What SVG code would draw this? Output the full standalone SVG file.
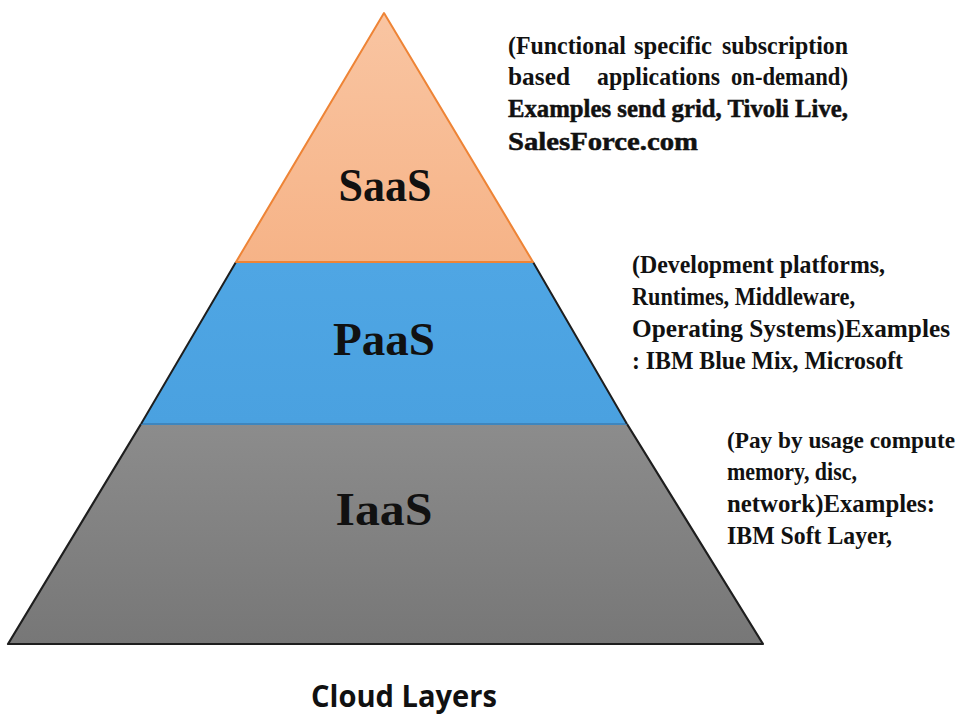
<svg xmlns="http://www.w3.org/2000/svg" width="962" height="719" viewBox="0 0 962 719">
<defs>
<linearGradient id="gSaas" x1="0" y1="0" x2="0" y2="1">
<stop offset="0" stop-color="#F9C5A2"/><stop offset="1" stop-color="#F6B387"/>
</linearGradient>
<linearGradient id="gPaas" x1="0" y1="0" x2="0" y2="1">
<stop offset="0" stop-color="#4FA6E4"/><stop offset="1" stop-color="#4AA1E0"/>
</linearGradient>
<linearGradient id="gIaas" x1="0" y1="0" x2="0" y2="1">
<stop offset="0" stop-color="#8C8C8C"/><stop offset="1" stop-color="#777777"/>
</linearGradient>
</defs>
<style>
.lbl{font-family:"Liberation Serif","Times New Roman",serif;font-weight:bold;font-size:46px;fill:#111;text-anchor:middle}
.descb{font-family:"Liberation Serif","Times New Roman",serif;font-size:25px;font-weight:bold;fill:#111}
.small{font-size:23px}
.heavy{stroke:#111;stroke-width:0.5}
.cap{font-family:"Open Sans","Liberation Sans",sans-serif;font-weight:bold;font-size:30px;fill:#111}
</style>
<rect width="962" height="719" fill="#FFFFFF"/>
<g id="iaas">
<polygon points="141,424 627,424 763,644 8,644" fill="url(#gIaas)"/>
<path d="M141,424 L8,644 L763,644 L627,424" fill="none" stroke="#1E1E1E" stroke-width="2.2" stroke-linejoin="round"/>
<text class="lbl" x="384" y="525" textLength="97" lengthAdjust="spacingAndGlyphs">IaaS</text>
</g>
<g id="paas">
<polygon points="236,262 533,262 627,424 141,424" fill="url(#gPaas)"/>
<line x1="141" y1="424" x2="627" y2="424" stroke="#3F86BE" stroke-width="2"/>
<path d="M236,262 L141,424 M533,262 L627,424" fill="none" stroke="#1E1E1E" stroke-width="2"/>
<text class="lbl" x="384" y="355" textLength="102" lengthAdjust="spacingAndGlyphs">PaaS</text>
</g>
<g id="saas">
<polygon points="384,13 533,262 236,262" fill="url(#gSaas)"/>
<path d="M236,262 L384,13 L533,262 Z" fill="none" stroke="#EE8436" stroke-width="2" stroke-linejoin="round"/>
<text class="lbl" x="385" y="201" textLength="93" lengthAdjust="spacingAndGlyphs">SaaS</text>
</g>
<g id="saas-desc">
<text class="descb" x="508" y="54" textLength="118" lengthAdjust="spacingAndGlyphs">(Functional</text>
<text class="descb" x="634" y="54" textLength="78" lengthAdjust="spacingAndGlyphs">specific</text>
<text class="descb" x="722" y="54" textLength="126" lengthAdjust="spacingAndGlyphs">subscription</text>
<text class="descb" x="508" y="85" textLength="62" lengthAdjust="spacingAndGlyphs">based</text>
<text class="descb" x="597" y="85" textLength="123" lengthAdjust="spacingAndGlyphs">applications</text>
<text class="descb" x="731" y="85" textLength="117" lengthAdjust="spacingAndGlyphs">on-demand)</text>
<text class="descb heavy" x="508" y="117" textLength="340" lengthAdjust="spacingAndGlyphs">Examples send grid, Tivoli Live,</text>
<text class="descb heavy" x="508" y="150" textLength="190" lengthAdjust="spacingAndGlyphs">SalesForce.com</text>
</g>
<g id="paas-desc">
<text class="descb" x="632" y="273" textLength="253" lengthAdjust="spacingAndGlyphs">(Development platforms,</text>
<text class="descb" x="632" y="305" textLength="223" lengthAdjust="spacingAndGlyphs">Runtimes, Middleware,</text>
<text class="descb" x="632" y="337" textLength="318" lengthAdjust="spacingAndGlyphs">Operating Systems)Examples</text>
<text class="descb" x="632" y="369" textLength="271" lengthAdjust="spacingAndGlyphs">: IBM Blue Mix, Microsoft</text>
</g>
<g id="iaas-desc">
<text class="descb small" x="727" y="448" textLength="228" lengthAdjust="spacingAndGlyphs">(Pay by usage compute</text>
<text class="descb" x="727" y="480" textLength="130" lengthAdjust="spacingAndGlyphs">memory, disc,</text>
<text class="descb" x="727" y="512" textLength="208" lengthAdjust="spacingAndGlyphs">network)Examples:</text>
<text class="descb" x="727" y="544" textLength="165" lengthAdjust="spacingAndGlyphs">IBM Soft Layer,</text>
</g>
<g id="caption">
<text class="cap" x="311" y="707" textLength="186" lengthAdjust="spacingAndGlyphs">Cloud Layers</text>
</g>
</svg>
